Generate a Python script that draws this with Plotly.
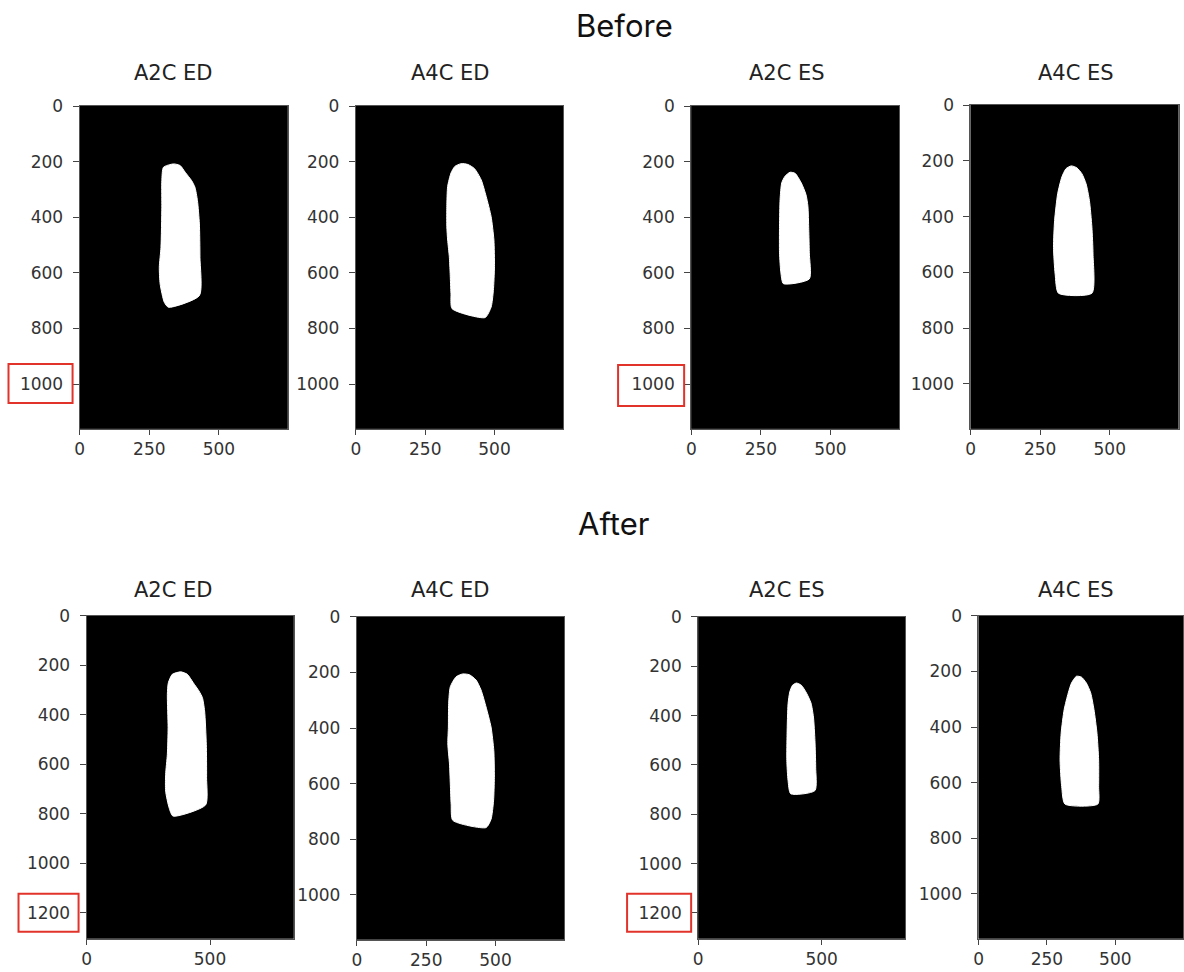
import plotly.graph_objects as go

# ---------------- data ----------------
row_titles = ["Before", "After"]
panel_titles = ["A2C ED", "A4C ED", "A2C ES", "A4C ES",
                "A2C ED", "A4C ED", "A2C ES", "A4C ES"]

# image size (width, height) of each mask
img_w = [748, 748, 748, 748, 840, 748, 840, 748]
img_h = [1162, 1162, 1162, 1162, 1305, 1162, 1305, 1162]

xticks_std = [0, 250, 500]
xticks_wide = [0, 500]
yticks_std = [0, 200, 400, 600, 800, 1000]
yticks_tall = [0, 200, 400, 600, 800, 1000, 1200]

# mask outlines (image coordinates: x = column, y = row)
before_a2c_ed_x = [301, 337, 361, 379, 402, 414, 423, 430, 432, 430, 319, 304, 289, 286, 292, 295, 295]
before_a2c_ed_y = [220, 208, 214, 238, 268, 292, 340, 424, 544, 682, 724, 706, 640, 580, 508, 364, 268]

before_a4c_ed_x = [380, 404, 428, 452, 470, 488, 498, 500, 496, 488, 466, 347, 343, 340, 337, 331, 328, 328, 331, 343, 357]
before_a4c_ed_y = [207, 210, 225, 265, 325, 398, 482, 578, 663, 723, 761, 729, 675, 602, 542, 482, 434, 361, 289, 241, 217]

before_a2c_es_x = [355, 373, 395, 412, 419, 422, 424, 424, 331, 322, 317, 317, 319, 325, 337]
before_a2c_es_y = [238, 242, 276, 318, 360, 444, 528, 622, 639, 600, 528, 432, 336, 276, 252]

before_a4c_es_x = [362, 382, 400, 415, 427, 436, 440, 436, 316, 304, 298, 302, 313, 328, 343]
before_a4c_es_y = [218, 225, 246, 282, 342, 438, 534, 675, 675, 606, 510, 414, 318, 258, 228]

after_a2c_ed_x = [381, 408, 432, 455, 469, 478, 485, 486, 482, 350, 334, 320, 320, 327, 330, 327, 331, 347]
after_a2c_ed_y = [226, 236, 270, 303, 330, 384, 519, 654, 764, 809, 775, 708, 640, 559, 451, 317, 270, 236]

after_a4c_ed_x = [382, 406, 430, 448, 466, 484, 494, 496, 493, 484, 466, 346, 340, 337, 334, 328, 330, 331, 337, 358]
after_a4c_ed_y = [205, 208, 227, 263, 324, 396, 481, 577, 662, 728, 758, 732, 674, 601, 529, 457, 396, 312, 251, 215]

after_a2c_es_x = [398, 418, 439, 457, 467, 473, 476, 473, 375, 364, 359, 360, 364, 371, 382]
after_a2c_es_y = [268, 277, 309, 349, 406, 501, 609, 704, 717, 663, 582, 474, 352, 304, 277]

after_a4c_es_x = [358, 376, 394, 410, 422, 433, 439, 439, 436, 316, 304, 298, 302, 313, 328, 340]
after_a4c_es_y = [217, 220, 241, 277, 337, 422, 518, 614, 677, 677, 614, 518, 422, 337, 277, 241]

blob_x = [before_a2c_ed_x, before_a4c_ed_x, before_a2c_es_x, before_a4c_es_x,
          after_a2c_ed_x, after_a4c_ed_x, after_a2c_es_x, after_a4c_es_x]
blob_y = [before_a2c_ed_y, before_a4c_ed_y, before_a2c_es_y, before_a4c_es_y,
          after_a2c_ed_y, after_a4c_ed_y, after_a2c_es_y, after_a4c_es_y]

panel_xticks = [xticks_std, xticks_std, xticks_std, xticks_std,
                xticks_wide, xticks_std, xticks_wide, xticks_std]
panel_yticks = [yticks_std, yticks_std, yticks_std, yticks_std,
                yticks_tall, yticks_std, yticks_tall, yticks_std]

# ---------------- layout (pixels) ----------------
W, H = 1184, 972
# plot-area boxes: left, right, top, bottom
boxes = [
    (79, 287, 105, 428), (355, 562, 105, 428), (690, 898, 105, 428), (969, 1177, 104, 428),
    (86, 293, 615, 938), (356, 563, 616, 939), (697, 904, 616, 938), (977, 1184, 615, 938),
]
title_cx = [173, 450, 786, 1074, 173, 450, 786, 1074]
title_cy = [72, 72, 72, 72, 589, 589, 589, 589]
red_boxes = [(8, 72, 363, 402), (617, 683, 364, 405), (18, 78, 893, 931), (626, 690, 893, 931)]

# small correction measured between target pixels and rendered pixels
CX_A, CX_B = 0.994, 4.5
CY_A, CY_B = 0.990, 9.0


def px(x):
    return min(1.0, max(0.0, ((x - CX_B) / CX_A) / W))


def py(y):
    return min(1.0, max(0.0, 1 - ((y - CY_B) / CY_A) / H))


fig = go.Figure()
layout = dict(
    width=W, height=H,
    margin=dict(l=0, r=0, t=0, b=0),
    paper_bgcolor="white",
    plot_bgcolor="black",
    showlegend=False,
    annotations=[],
    shapes=[],
)

tick_font = dict(family="DejaVu Sans", size=17, color="#333333")

for i in range(8):
    k = "" if i == 0 else str(i + 1)
    l, r, t, b = boxes[i]
    xs = list(blob_x[i]) + [blob_x[i][0]]
    ys = list(blob_y[i]) + [blob_y[i][0]]
    fig.add_trace(go.Scatter(
        x=xs, y=ys, mode="lines", fill="toself",
        fillcolor="white", line=dict(color="white", width=1, shape="spline", smoothing=0.6),
        xaxis="x" + k, yaxis="y" + k, hoverinfo="skip",
    ))
    layout["xaxis" + k] = dict(
        domain=[px(l), px(r)], anchor="y" + k,
        range=[-0.5, img_w[i] - 0.5],
        tickvals=panel_xticks[i], ticktext=[str(v) for v in panel_xticks[i]],
        ticks="outside", ticklen=5, tickcolor="#444", tickwidth=1,
        showline=True, linecolor="#555", linewidth=1, mirror=True,
        showgrid=False, zeroline=False, tickfont=tick_font, fixedrange=True,
    )
    layout["yaxis" + k] = dict(
        domain=[py(b), py(t)], anchor="x" + k,
        range=[img_h[i] - 0.5, -0.5],
        tickvals=panel_yticks[i], ticktext=[str(v) for v in panel_yticks[i]],
        ticks="outside", ticklen=6, tickcolor="#444", tickwidth=1,
        ticklabelstandoff=6,
        showline=True, linecolor="#555", linewidth=1, mirror=True,
        showgrid=False, zeroline=False, tickfont=tick_font, fixedrange=True,
    )
    layout["annotations"].append(dict(
        text=panel_titles[i], x=px(title_cx[i]), y=py(title_cy[i]),
        xref="paper", yref="paper", xanchor="center", yanchor="middle",
        showarrow=False, font=dict(family="DejaVu Sans", size=21, color="#222"),
    ))

row_pos = [(623, 25), (612, 523)]
for txt, (cx, cy) in zip(row_titles, row_pos):
    layout["annotations"].append(dict(
        text=txt, x=px(cx), y=py(cy), xref="paper", yref="paper",
        xanchor="center", yanchor="middle", showarrow=False,
        font=dict(family="Inter", size=31, color="#111"),
    ))

for (x0, x1, y0, y1) in red_boxes:
    layout["shapes"].append(dict(
        type="rect", xref="paper", yref="paper",
        x0=px(x0), x1=px(x1), y0=py(y1), y1=py(y0),
        line=dict(color="#e2332b", width=2), fillcolor="rgba(0,0,0,0)",
    ))

fig.update_layout(**layout)
fig.write_html(
    "out.html",
    config={"displayModeBar": False},
    post_script="document.body.style.margin='0';document.body.style.overflow='hidden';",
)
